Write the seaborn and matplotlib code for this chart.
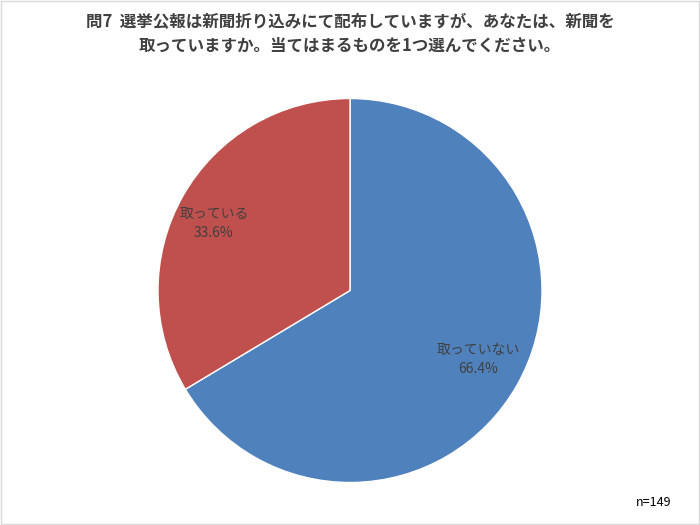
import matplotlib
matplotlib.use("Agg")
import matplotlib.pyplot as plt
import seaborn as sns
import numpy as np
from matplotlib.patches import Rectangle

sns.set_style("white")
plt.rcParams['font.family'] = ['Noto Sans CJK JP', 'DejaVu Sans']

categories = ["取っていない", "取っている"]
values = [66.4, 33.6]
colors = ["#4F81BD", "#C0504D"]
title = "問7  選挙公報は新聞折り込みにて配布していますが、あなたは、新聞を\n取っていますか。当てはまるものを1つ選んでください。"
note = "n=149"

W, H = 700, 525
cx, cy, r = 350, 290.5, 192
fig = plt.figure(figsize=(7, 5.25), dpi=100)
ax = fig.add_axes([(cx - r) / W, (H - cy - r) / H, 2 * r / W, 2 * r / H])
wedges, _ = ax.pie(values, colors=colors, startangle=90, counterclock=False,
                   wedgeprops=dict(edgecolor="white", linewidth=1.0), radius=1.0)
ax.set_xlim(-1, 1)
ax.set_ylim(-1, 1)
ax.set_aspect("equal")
ax.axis("off")

dists = [0.76, 0.79]
shifts = [1.2, 3.3]
for w, cat, v, d, s in zip(wedges, categories, values, dists, shifts):
    ang = np.deg2rad((w.theta1 + w.theta2) / 2 + s)
    ax.text(d * np.cos(ang), d * np.sin(ang), f"{cat}\n{v:.1f}%", ha="center", va="center",
            fontsize=10, color="#404040", linespacing=1.5)

fig.text(0.5, 0.935, title, ha="center", va="center", fontsize=11.9, fontweight="bold",
         color="#404040", linespacing=1.38)
fig.text(0.959, 0.042, note, ha="right", va="center", fontsize=9, color="#000000")
fig.patches.append(Rectangle((0.002, 0.002), 0.996, 0.996, transform=fig.transFigure,
                             fill=False, edgecolor="#D9D9D9", linewidth=1.0))
fig.savefig("out.png", dpi=100)
